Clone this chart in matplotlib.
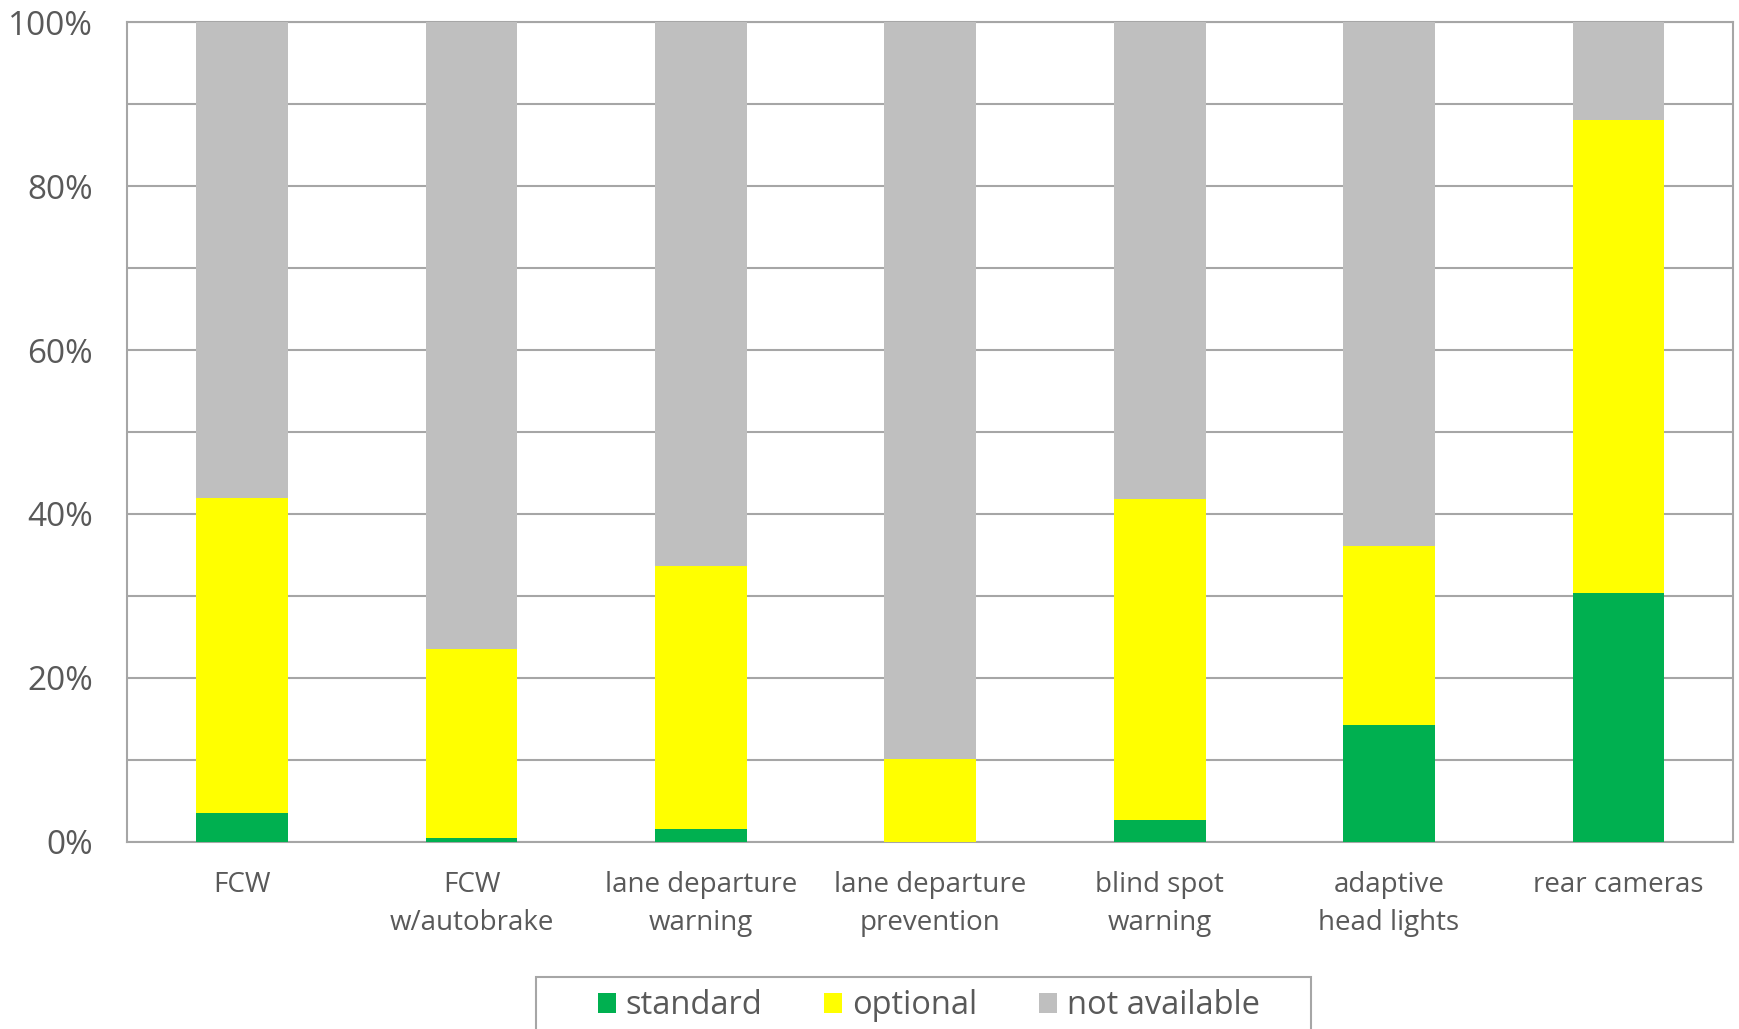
import matplotlib
matplotlib.use('Agg')
import matplotlib.pyplot as plt
from matplotlib.patches import Rectangle
from matplotlib.ticker import MultipleLocator, PercentFormatter
import numpy as np

categories = ['FCW', 'FCW\nw/autobrake', 'lane departure\nwarning', 'lane departure\nprevention',
              'blind spot\nwarning', 'adaptive\nhead lights', 'rear cameras']
standard = [3.5, 0.4, 1.6, 0.0, 2.6, 14.3, 30.4]
optional = [38.4, 23.1, 32.0, 10.1, 39.2, 21.8, 57.7]
not_available = [100 - s - o for s, o in zip(standard, optional)]

series_names = ['standard', 'optional', 'not available']
series_colors = ['#00B050', '#FFFF00', '#BFBFBF']

text_col = '#595959'
grid_col = '#A6A6A6'
plt.rcParams['font.family'] = ['Open Sans', 'DejaVu Sans']

fig = plt.figure(figsize=(17.39, 10.29), dpi=100)
ax = fig.add_axes([0.0733, 0.182, 0.9233, 0.7964])

x = np.arange(len(categories))
bottom = np.zeros(len(categories))
for vals, name, col in zip([standard, optional, not_available], series_names, series_colors):
    ax.bar(x, vals, width=0.4, bottom=bottom, color=col, label=name, zorder=3)
    bottom += np.array(vals)

ax.set_xlim(-0.5, len(categories) - 0.5)
ax.set_ylim(0, 100)
ax.yaxis.set_major_locator(MultipleLocator(20))
ax.yaxis.set_minor_locator(MultipleLocator(10))
ax.yaxis.set_major_formatter(PercentFormatter(decimals=0))
ax.grid(axis='y', which='both', color=grid_col, linewidth=1.5, zorder=0)
ax.set_xticks(x)
ax.set_xticklabels(categories, fontsize=20, color=text_col, linespacing=1.5)
ax.tick_params(axis='y', which='both', length=0, labelsize=24, labelcolor=text_col, pad=25)
ax.tick_params(axis='x', length=0, pad=21)
for sp in ax.spines.values():
    sp.set_color(grid_col)
    sp.set_linewidth(1.5)

# legend frame runs off the bottom edge
fig.patches.append(Rectangle((536 / 1739, -0.05), 775 / 1739, 0.1005, transform=fig.transFigure,
                             fill=False, edgecolor=grid_col, linewidth=1.5))
handles, labels = ax.get_legend_handles_labels()
fig.legend(handles, labels, loc='center', bbox_to_anchor=(0.534, 0.0224), ncol=3, frameon=False,
           fontsize=23.5, labelcolor=text_col, handlelength=0.55, handleheight=0.55,
           handletextpad=0.3, columnspacing=1.9)

fig.savefig('out.png', dpi=100)
